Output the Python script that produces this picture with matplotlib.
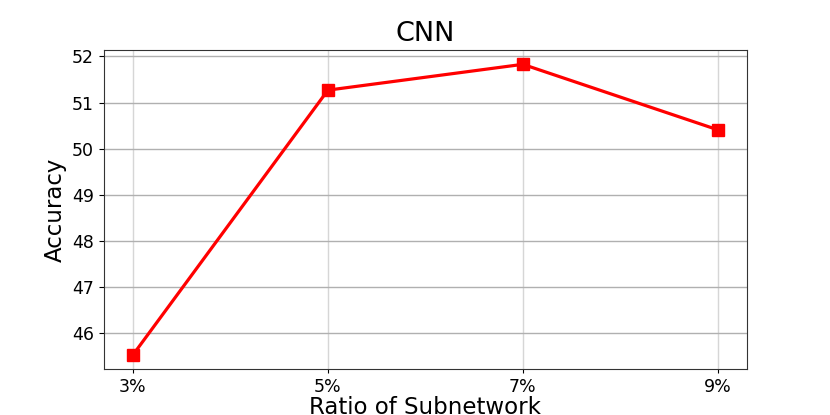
import numpy as np
import matplotlib.pyplot as plt

ratios = ['3%', '5%', '7%', '9%']
accuracy = [45.53, 51.27, 51.83, 50.41]

x = np.arange(len(ratios))

fig, ax = plt.subplots(figsize=(8.3, 4.15), dpi=100)
ax.plot(x, accuracy, color='red', linewidth=2.3, marker='s', markersize=8.5)

ax.set_title("CNN", fontsize=19.5)
ax.set_xlabel("Ratio of Subnetwork", fontsize=16.5, labelpad=0)
ax.set_ylabel("Accuracy", fontsize=16.5)
ax.set_xticks(x)
ax.set_xticklabels(ratios)
ax.tick_params(axis='both', labelsize=12.5)
ax.tick_params(axis='x', length=3)

ax.grid(axis='x', color='#d6d6d6', linewidth=1)
ax.grid(axis='y', color='#b0b0b0', linewidth=1)
for s in ax.spines.values():
    s.set_color('#333333')

fig.savefig("out.png")
